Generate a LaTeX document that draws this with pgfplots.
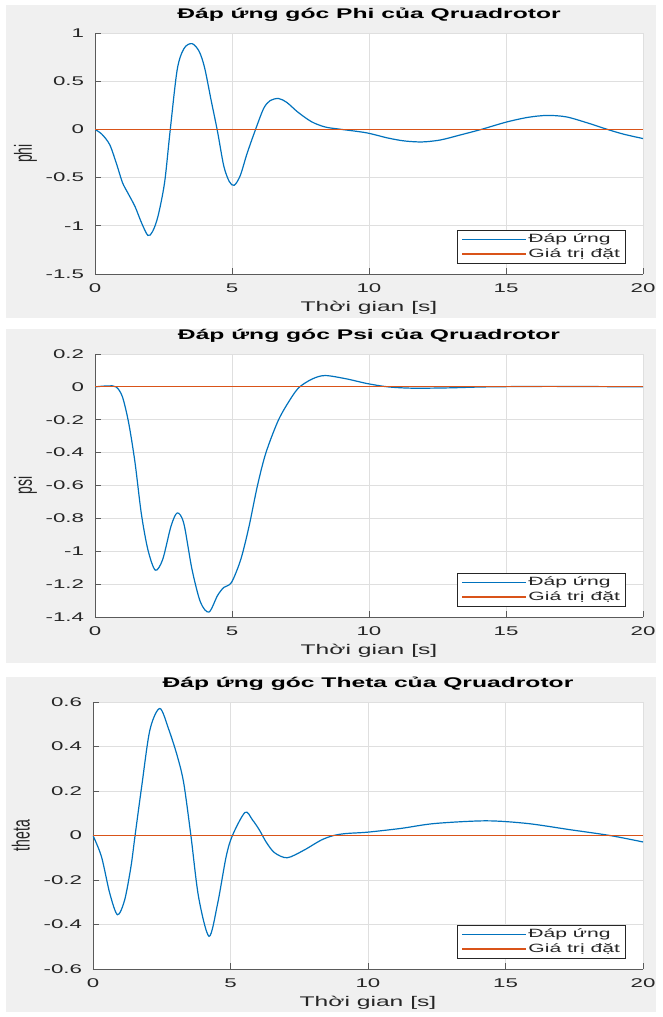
\documentclass[border=0pt]{standalone}
\usepackage{fontspec}
\setmainfont{Liberation Sans}[FakeStretch=1.76]
\newfontfamily\tfont{Liberation Sans}[FakeStretch=1.76]
\newfontfamily\ylfont{Liberation Sans}[FakeStretch=0.568]
\usepackage{pgfplots}
\pgfplotsset{compat=1.18}
\definecolor{mblue}{RGB}{0,114,189}
\definecolor{morange}{RGB}{217,83,25}
\definecolor{bg}{RGB}{240,240,240}
\definecolor{gridc}{RGB}{223,223,223}
\definecolor{axc}{RGB}{90,90,90}
\definecolor{txt}{RGB}{38,38,38}
\newcommand{\tl}[1]{\mbox{\tfont\fontsize{9.5}{10}\selectfont #1}}
\pgfplotsset{
 mstyle/.style={
  scale only axis,
  xmin=0,xmax=20, xtick={0,5,10,15,20},
  xticklabels={\tl{0},\tl{5},\tl{10},\tl{15},\tl{20}},
  axis x line*=bottom, axis y line*=left,
  axis line style={draw=axc, line width=0.6pt, -},
  tick align=inside, major tick length=4.5pt,
  tick style={draw=axc, line width=0.6pt},
  grid=major, grid style={draw=gridc, line width=0.6pt},
  axis background/.style={fill=white},
  ticklabel style={font=\tfont\fontsize{9.5}{10}\selectfont, text=txt},
  xticklabel style={anchor=north, inner sep=0pt, yshift=-7.3pt},
  yticklabel style={anchor=east, inner sep=0pt, xshift=-8pt},
  title style={font=\bfseries\fontsize{10.5}{12}\selectfont, at={(0.5,1)}, anchor=base, yshift=4.8pt},
  xlabel style={font=\fontsize{10.5}{12}\selectfont, text=txt, at={(0.5,0)}, anchor=base, yshift=-28pt},
  ylabel style={font=\ylfont\fontsize{18.5}{20}\selectfont, text=txt, at={(-0.115,0.5)}, anchor=base},
  xlabel={Thời gian [s]},
  legend style={at={(1,0)}, anchor=south east, xshift=-13pt, yshift=7.5pt,
    draw=txt, line width=0.6pt, fill=white, font=\fontsize{9}{10}\selectfont, text=txt,
    inner xsep=3pt, inner ysep=2pt, row sep=0.4pt,
    nodes={inner sep=1pt, text height=6.5pt, text depth=1.8pt}, cells={anchor=west}},
  legend image code/.code={\draw[#1, line width=0.9pt] (0pt,0pt) -- (48pt,0pt);},
 },
 resp/.style={color=mblue, draw=mblue, line width=0.9pt, smooth, no markers},
 setp/.style={color=morange, draw=morange, line width=0.9pt, no markers},
}
\begin{document}
\begin{tikzpicture}
\useasboundingbox (0pt,0pt) rectangle (496.5pt,-762.75pt);
\fill[white] (0pt,0pt) rectangle (496.5pt,-762.75pt);
\fill[bg] (4.5pt,-3.75pt) rectangle (492pt,-238.5pt);
\fill[bg] (4.5pt,-246.75pt) rectangle (492pt,-497.25pt);
\fill[bg] (4.5pt,-507.75pt) rectangle (492pt,-759pt);

% Panel 1: phi
\begin{axis}[mstyle, at={(71.25pt,-205.5pt)}, anchor=south west,
  width=411pt, height=180.75pt,
  ymin=-1.5, ymax=1, ytick={-1.5,-1,-0.5,0,0.5,1},
  yticklabels={\tl{-1.5},\tl{-1},\tl{-0.5},\tl{0},\tl{0.5},\tl{1}},
  title={Đáp ứng góc Phi của Qruadrotor}, ylabel={phi}]
\addplot[resp] coordinates {
(0,0) (0.25,-0.05) (0.54,-0.16) (0.8,-0.37) (1.0,-0.55) (1.2,-0.66) (1.46,-0.80)
(1.7,-0.97) (1.93,-1.10) (2.1,-1.06) (2.3,-0.90) (2.54,-0.55) (2.74,-0.02)
(3.0,0.62) (3.25,0.84) (3.54,0.89) (3.8,0.81) (4.0,0.64) (4.24,0.30) (4.47,-0.02)
(4.7,-0.38) (4.9,-0.54) (5.08,-0.58) (5.3,-0.48) (5.55,-0.25) (5.86,0.0)
(6.16,0.22) (6.4,0.30) (6.70,0.32) (7.0,0.28) (7.4,0.18) (7.9,0.08) (8.4,0.025)
(9.0,0.0) (9.9,-0.035) (10.7,-0.09) (11.3,-0.12) (11.94,-0.13) (12.6,-0.11)
(13.3,-0.06) (14.1,0.0) (15.0,0.075) (15.8,0.125) (16.5,0.145) (17.2,0.13)
(18.0,0.065) (18.7,0.0) (19.3,-0.05) (20,-0.095)
};
\addplot[setp] coordinates {(0,0) (20,0)};
\legend{Đáp ứng, Giá trị đặt}
\end{axis}

% Panel 2: psi
\begin{axis}[mstyle, at={(71.25pt,-462.75pt)}, anchor=south west,
  width=411pt, height=197.25pt,
  ymin=-1.4, ymax=0.2, ytick={-1.4,-1.2,-1,-0.8,-0.6,-0.4,-0.2,0,0.2},
  yticklabels={\tl{-1.4},\tl{-1.2},\tl{-1},\tl{-0.8},\tl{-0.6},\tl{-0.4},\tl{-0.2},\tl{0},\tl{0.2}},
  title={Đáp ứng góc Psi của Qruadrotor}, ylabel={psi}]
\addplot[resp] coordinates {
(0,0) (0.46,0.006) (0.77,0.0) (1.0,-0.06) (1.23,-0.22) (1.46,-0.46) (1.69,-0.77)
(1.93,-0.99) (2.2,-1.115) (2.47,-1.05) (2.77,-0.85) (3.0,-0.767) (3.24,-0.83)
(3.54,-1.11) (3.85,-1.31) (4.16,-1.37) (4.47,-1.27) (4.7,-1.22) (4.98,-1.19)
(5.32,-1.05) (5.62,-0.85) (5.93,-0.60) (6.24,-0.40) (6.7,-0.20) (7.16,-0.067)
(7.47,0.0) (7.94,0.049) (8.4,0.069) (9.17,0.049) (9.94,0.02) (10.7,0.0)
(11.6,-0.008) (12.9,-0.006) (14.3,0.0) (16.6,0.003) (20,0.0)
};
\addplot[setp] coordinates {(0,0) (20,0)};
\legend{Đáp ứng, Giá trị đặt}
\end{axis}

% Panel 3: theta
\begin{axis}[mstyle, at={(69.75pt,-726.75pt)}, anchor=south west,
  width=412.5pt, height=200.25pt,
  ymin=-0.6, ymax=0.6, ytick={-0.6,-0.4,-0.2,0,0.2,0.4,0.6},
  yticklabels={\tl{-0.6},\tl{-0.4},\tl{-0.2},\tl{0},\tl{0.2},\tl{0.4},\tl{0.6}},
  title={Đáp ứng góc Theta của Qruadrotor}, ylabel={theta}]
\addplot[resp] coordinates {
(0,0) (0.31,-0.096) (0.61,-0.26) (0.89,-0.356) (1.15,-0.29) (1.38,-0.14)
(1.53,0.0) (1.77,0.22) (2.07,0.475) (2.43,0.571) (2.76,0.475) (3.07,0.355)
(3.3,0.235) (3.56,0.0) (3.84,-0.277) (4.22,-0.453) (4.53,-0.307) (4.84,-0.096)
(5.07,0.0) (5.53,0.104) (5.8,0.07) (6.05,0.025) (6.3,-0.03) (6.6,-0.077) (7.06,-0.10)
(7.67,-0.066) (8.29,-0.021) (8.75,0.0) (9.21,0.009) (9.98,0.015) (11.2,0.032)
(12.43,0.054) (14.3,0.066) (15.8,0.054) (17.3,0.027) (18.8,0.0) (20,-0.029)
};
\addplot[setp] coordinates {(0,0) (20,0)};
\legend{Đáp ứng, Giá trị đặt}
\end{axis}
\end{tikzpicture}
\end{document}
